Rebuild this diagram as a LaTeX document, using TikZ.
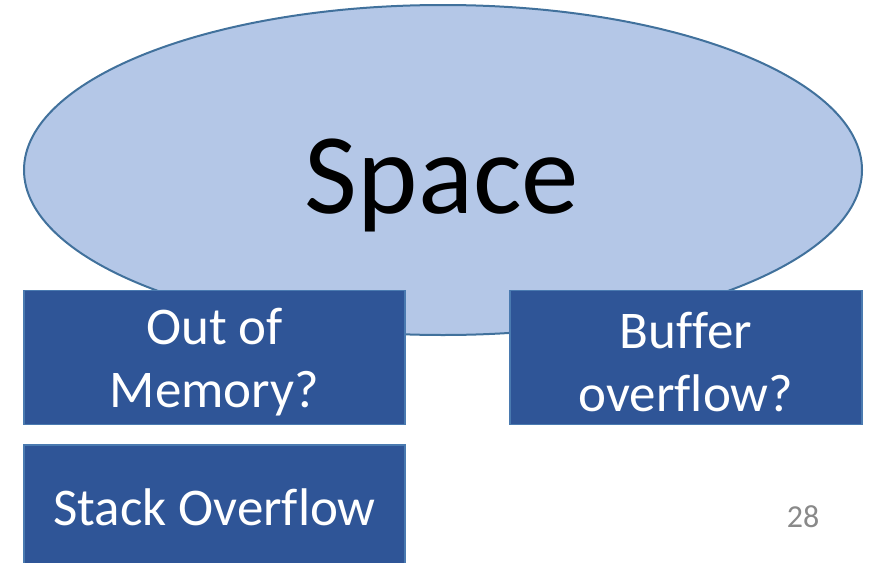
\documentclass[tikz,border=0pt]{standalone}
\usepackage{fontspec}
\setmainfont[Ligatures=NoCommon]{Carlito}
\usetikzlibrary{shapes.geometric}
\definecolor{ovalfill}{HTML}{B4C7E7}
\definecolor{ovalline}{HTML}{41719C}
\definecolor{boxfill}{HTML}{2F5597}
\definecolor{boxline}{HTML}{4A7AB0}
\definecolor{pagenum}{HTML}{898989}
\tikzset{
  oval/.style={ellipse, draw=ovalline, fill=ovalfill, line width=2pt, inner sep=0pt},
  bluebox/.style={rectangle, draw=boxline, fill=boxfill, line width=1.8pt, inner sep=0pt},
  boxtext/.style={text=white, align=center, inner sep=0pt,
    font=\fontsize{53}{63}\selectfont},
}
\begin{document}
\begin{tikzpicture}[x=1pt, y=-1pt]
  \useasboundingbox (0,0) rectangle (877,562);
  \clip (0,0) rectangle (877,562);
  % central topic
  \node[oval, minimum width=838pt, minimum height=330pt] (space) at (443,170) {};
  \node[inner sep=0pt, anchor=base, font=\fontsize{115}{130}\selectfont] (spacetxt) at (442,213) {Space};
  % sub-topics
  \node[bluebox, minimum width=381pt, minimum height=134pt] (oom) at (214.5,357.5) {};
  \node[bluebox, minimum width=352pt, minimum height=134pt] (buf) at (686,357.5) {};
  \node[bluebox, minimum width=381pt, minimum height=170pt] (stack) at (214.5,530) {};
  \node[boxtext] (oomtxt) at (214.5,362) {Out of\\Memory?};
  \node[boxtext] (buftxt) at (686,362) {Buffer\\overflow?};
  \node[boxtext, anchor=base] (stacktxt) at (214.5,525) {Stack Overflow};
  % slide number
  \node[inner sep=0pt, anchor=base, text=pagenum, font=\fontsize{32}{38}\selectfont] (num) at (803,527) {28};
\end{tikzpicture}
\end{document}
